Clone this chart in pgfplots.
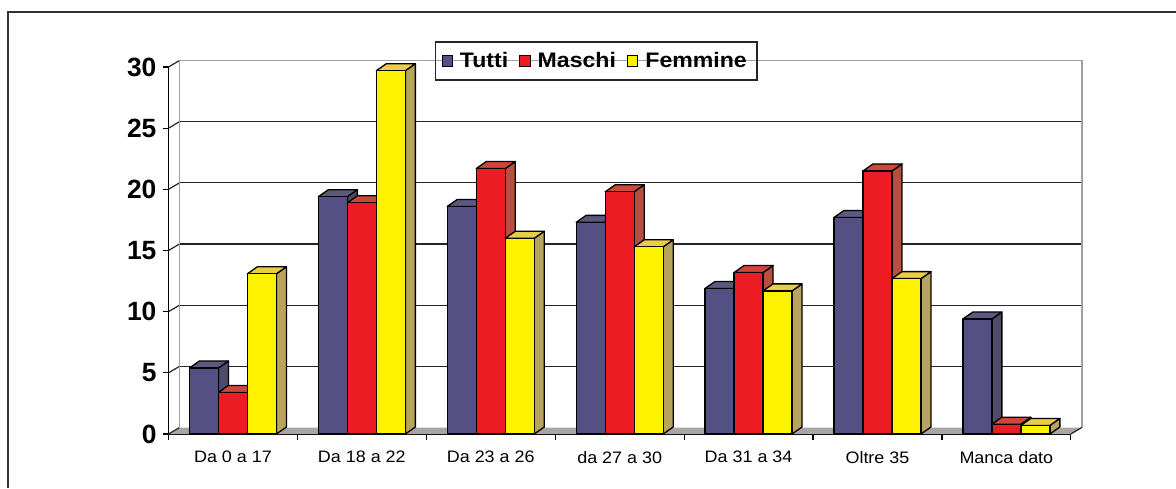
\documentclass[border=0pt]{standalone}
\usepackage{pgfplots}
\pgfplotsset{compat=1.18}
\usepackage{pgfplotstable}
\usepackage{fontspec}
\setmainfont{Liberation Sans}
\newfontfamily\legfont[FakeStretch=1.1]{Liberation Sans}
\newfontfamily\xlabfont[FakeStretch=1.08]{Liberation Sans}

\definecolor{tuttiF}{RGB}{84,80,131}
\definecolor{tuttiT}{RGB}{92,88,128}
\definecolor{tuttiS}{RGB}{78,76,104}
\definecolor{maschiF}{RGB}{237,28,36}
\definecolor{maschiT}{RGB}{206,72,56}
\definecolor{maschiS}{RGB}{184,78,62}
\definecolor{femF}{RGB}{255,242,0}
\definecolor{femT}{RGB}{232,206,72}
\definecolor{femS}{RGB}{184,164,92}
\definecolor{floorc}{RGB}{168,165,162}
\definecolor{wallc}{RGB}{160,160,160}
\definecolor{framec}{RGB}{50,50,50}

\pgfdeclareplotmark{nothing}{}

\pgfplotstableread{
idx T M F
0 5.4 3.4 13.1
1 19.4 18.9 29.7
2 18.6 21.7 16.0
3 17.3 19.8 15.3
4 11.9 13.2 11.7
5 17.7 21.5 12.7
6 9.4 0.8 0.7
}\datatable

\pgfplotsset{
  bar3d/.style n args={4}{
    scatter, only marks, mark=nothing,
    visualization depends on={\thisrow{#1} \as \val},
    scatter/@pre marker code/.code={%
      \pgfmathsetmacro\h{\val*6.1167}%
      \pgfmathsetmacro\hb{3.5-\h}%
      \filldraw[fill=#4, draw=black, line width=0.65pt, line join=round]
        (7.25pt,0pt) -- (12.25pt,3.5pt) -- (12.25pt,\hb pt) -- (7.25pt,-\h pt) -- cycle;
      \filldraw[fill=#3, draw=black, line width=0.65pt, line join=round]
        (-7.25pt,0pt) -- (7.25pt,0pt) -- (12.25pt,3.5pt) -- (-2.25pt,3.5pt) -- cycle;
      \filldraw[fill=#2, draw=black, line width=0.65pt, line join=round]
        (-7.25pt,-\h pt) rectangle (7.25pt,0pt);
    },
    scatter/@post marker code/.code={},
    legend image code/.code={%
      \filldraw[fill=#2, draw=black, line width=0.5pt] (0pt,-2.6pt) rectangle (5.2pt,2.6pt);
    },
  },
}

\begin{document}
\begin{tikzpicture}
\useasboundingbox (0,0) rectangle (588pt,244pt);
\fill[white] (0,0) rectangle (588pt,244pt);
\draw[framec, line width=1pt] (4pt,0pt) -- (4pt,238pt) -- (590pt,238pt);
\begin{axis}[
  at={(84.25pt,27pt)}, anchor=south west,
  x=64.45pt, y=6.1167pt,
  xmin=-0.5, xmax=6.5, ymin=0, ymax=30,
  clip=false,
  axis x line*=bottom, axis y line*=left,
  axis line style={black, line width=0.6pt},
  tick align=outside,
  ytick={0,5,...,30},
  major tick length=3pt,
  minor tick length=3pt,
  xtick={0,...,6},
  minor xtick={-0.5,0.5,...,6.5},
  xticklabels={Da 0 a 17, Da 18 a 22, Da 23 a 26, da 27 a 30, Da 31 a 34, Oltre 35, Manca dato},
  every major x tick/.append style={draw=none},
  every minor x tick/.append style={black, line width=0.6pt},
  every major y tick/.append style={black, line width=0.6pt},
  /pgf/number format/assume math mode=true,
  yticklabel style={font=\fontsize{13.2}{14}\selectfont\bfseries, xshift=0.5pt},
  xticklabel style={font=\xlabfont\fontsize{8.3}{9}\selectfont, yshift=-2pt},
  legend columns=-1,
  legend style={at={(0.474,1.016)}, anchor=center, draw=black!85, line width=0.75pt,
    fill=none, font=\legfont\fontsize{10.5}{12}\selectfont\bfseries,
    inner xsep=3pt, inner ysep=3pt,
    /tikz/every odd column/.append style={column sep=1.5pt},
    /tikz/every even column/.append style={column sep=3.5pt}},
  legend cell align=left,
]
% floor
\fill[floorc] (axis cs:-0.5,0) -- (axis cs:6.5,0) -- ++(5.5pt,3.25pt) -- ([shift={(5.5pt,3.25pt)}]axis cs:-0.5,0) -- cycle;
% back wall gridlines
\pgfplotsinvokeforeach{5,10,15,20,25}{
  \draw[black!85, line width=0.6pt] ([shift={(5.5pt,3.25pt)}]axis cs:-0.5,#1) -- ([shift={(5.5pt,3.25pt)}]axis cs:6.5,#1);
}
\pgfplotsinvokeforeach{0,5,10,15,20,25,30}{
  \draw[black!85, line width=0.6pt] (axis cs:-0.5,#1) -- ++(5.5pt,3.25pt);
}
% wall outline
\draw[wallc, line width=0.8pt] ([shift={(5.5pt,3.25pt)}]axis cs:-0.5,0) -- ([shift={(5.5pt,3.25pt)}]axis cs:-0.5,30) -- ([shift={(5.5pt,3.25pt)}]axis cs:6.5,30) -- ([shift={(5.5pt,3.25pt)}]axis cs:6.5,0);
\draw[black!85, line width=0.6pt] (axis cs:6.5,0) -- ++(5.5pt,3.25pt);

\addplot[bar3d={T}{tuttiF}{tuttiT}{tuttiS}] table[x expr=\thisrow{idx}-0.225, y=T] {\datatable};
\addplot[bar3d={M}{maschiF}{maschiT}{maschiS}] table[x expr=\thisrow{idx}, y=M] {\datatable};
\addplot[bar3d={F}{femF}{femT}{femS}] table[x expr=\thisrow{idx}+0.225, y=F] {\datatable};
\legend{Tutti, Maschi, Femmine}
\end{axis}
\end{tikzpicture}
\end{document}
